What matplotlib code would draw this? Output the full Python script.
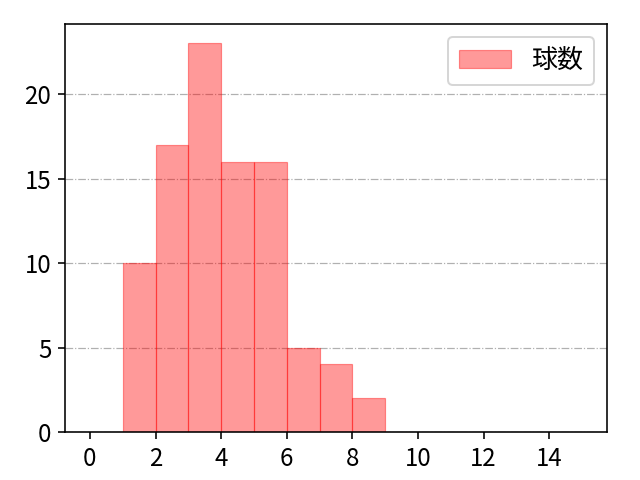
import matplotlib
matplotlib.use("Agg")
import matplotlib.pyplot as plt
import numpy as np

plt.rcParams['font.family'] = ['Noto Sans CJK JP', 'DejaVu Sans']

# pitch count histogram
bin_edges = list(range(0, 16))
counts = [0, 10, 17, 23, 16, 16, 5, 4, 2, 0, 0, 0, 0, 0, 0]
label = "球数"

left = [e for e, c in zip(bin_edges[:-1], counts) if c > 0]
heights = [c for c in counts if c > 0]

fig, ax = plt.subplots(figsize=(640 / 144, 480 / 144), dpi=144)
ax.bar(left, heights, width=1, align='edge',
       color='red', alpha=0.4, edgecolor='red', linewidth=0.6, label=label)
ax.set_xlim(-0.75, 15.75)
ax.set_ylim(0, 23 * 1.05)
ax.set_xticks(np.arange(0, 15, 2))
ax.set_yticks([0, 5, 10, 15, 20])
ax.tick_params(labelsize=12)
ax.grid(axis='y', linestyle='-.', color='#b0b0b0', linewidth=0.6)
ax.set_axisbelow(True)
ax.legend(loc='upper right', fontsize=13)
fig.subplots_adjust(left=0.102, right=0.948, bottom=0.1, top=0.95)
fig.savefig("out.png", dpi=144)
